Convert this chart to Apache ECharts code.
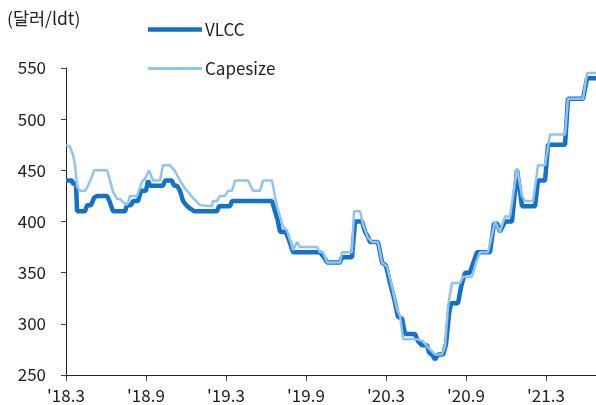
<!DOCTYPE html>
<html>
<head>
<meta charset="utf-8">
<script src="https://cdn.jsdelivr.net/npm/echarts@6/dist/echarts.min.js"></script>
<style>
  html, body { margin: 0; padding: 0; background: #fff; }
  #chart { width: 596px; height: 405px; }
</style>
</head>
<body>
<div id="chart"></div>
<script>
// 월 위치 (2018.3 = 0)
const tickLabels = ["'18.3", "'18.9", "'19.3", "'19.9", "'20.3", "'20.9", "'21.3"]

// VLCC
const vlccMonth = [0, 0.45, 0.53, 0.75, 0.83, 1.43, 1.58, 1.88, 2.1, 2.33, 3.08, 3.23, 3.53, 4.43, 4.58, 4.88, 5.03, 5.4, 5.63, 6.0,
  6.15, 6.3, 7.28, 7.43, 7.95, 8.1, 8.33, 8.55, 8.78, 9.08, 9.38, 9.6, 11.33, 11.48, 12.3, 12.45, 15.45, 15.68, 15.9, 16.05,
  16.43, 16.58, 16.8, 17.03, 19.05, 19.35, 19.58, 20.55, 20.7, 21.45, 21.68, 22.2, 22.43, 22.65, 22.8, 23.4, 23.7, 24.0, 24.3, 24.6,
  24.9, 25.2, 25.43, 26.18, 26.4, 26.7, 27.08, 27.23, 27.45, 27.68, 27.9, 28.28, 28.5, 28.73, 28.88, 29.4, 29.63, 29.93, 30.3, 30.45,
  30.83, 31.8, 32.1, 32.33, 32.55, 32.93, 33.45, 33.83, 34.2, 35.18, 35.4, 35.93, 36.15, 37.43, 37.65, 38.78, 39.08, 39.75]
const vlccValue = [440, 440, 437, 437, 410, 410, 416, 416, 423, 425, 425, 421, 410, 410, 416, 416, 420, 420, 430, 430,
  440, 435, 435, 440, 440, 435, 435, 430, 420, 415, 412, 410, 410, 415, 415, 420, 420, 410, 400, 390,
  390, 387, 379, 370, 370, 365, 360, 360, 365, 365, 400, 400, 390, 385, 380, 380, 360, 357, 340, 325,
  307, 305, 290, 290, 283, 279, 279, 272, 270, 265, 270, 270, 280, 310, 320, 320, 336, 350, 350, 356,
  370, 370, 398, 398, 390, 400, 400, 450, 415, 415, 440, 440, 475, 475, 520, 520, 540, 540]

// Capesize
const capeMonth = [0, 0.3, 0.53, 0.68, 0.83, 1.05, 1.43, 1.65, 1.95, 2.1, 3.08, 3.3, 3.53, 3.83, 4.05, 4.28, 4.58, 4.8, 5.33, 5.7,
  5.93, 6.23, 6.53, 7.05, 7.28, 7.8, 8.18, 8.55, 8.93, 9.15, 9.45, 9.83, 10.05, 10.95, 11.03, 11.33, 11.55, 11.93, 12.15, 12.45,
  12.68, 13.65, 14.03, 14.55, 14.78, 15.45, 15.75, 15.9, 16.28, 16.58, 16.8, 17.03, 17.33, 17.55, 18.83, 19.05, 19.28, 19.58, 20.55, 20.7,
  21.45, 21.6, 22.05, 22.28, 22.65, 22.95, 23.4, 23.7, 24.08, 24.45, 24.83, 25.05, 25.28, 26.33, 26.78, 27.08, 27.45, 27.68, 28.2, 28.43,
  28.65, 28.95, 29.55, 29.78, 30.45, 30.75, 31.05, 31.65, 32.18, 32.55, 32.93, 33.3, 33.83, 34.2, 34.43, 35.03, 35.4, 35.93, 36.3, 37.43,
  37.65, 38.78, 39.08, 39.75]
const capeValue = [475, 473, 465, 455, 434, 430, 430, 435, 444, 450, 450, 440, 429, 422, 422, 419, 416, 425, 425, 439,
  442, 450, 440, 440, 455, 455, 449, 440, 432, 429, 424, 419, 416, 415, 420, 420, 425, 425, 430, 430,
  440, 440, 430, 430, 440, 440, 419, 411, 395, 391, 382, 372, 380, 375, 375, 370, 370, 360, 360, 370,
  370, 410, 410, 397, 384, 380, 380, 360, 356, 336, 314, 308, 285, 285, 283, 278, 273, 270, 270, 278,
  317, 340, 340, 346, 346, 360, 370, 370, 400, 390, 405, 405, 452, 425, 420, 420, 455, 455, 485, 485,
  520, 520, 545, 545]

const pairs = (xs, ys) => xs.map((x, i) => [x, ys[i]])

const FONT = 'Noto Sans CJK KR'
const DARK = '#1570c8'
const LIGHT = '#8fc4f2'
const chart = echarts.init(document.getElementById('chart'))

chart.setOption({
  animation: false,
  textStyle: { fontFamily: FONT },
  graphic: [
    {
      type: 'text',
      left: 7,
      top: 10,
      style: { text: '(달러/ldt)', fontFamily: FONT, fontSize: 17.5, fill: '#222' }
    }
  ],
  legend: {
    orient: 'vertical',
    left: 143,
    top: 16,
    itemWidth: 54,
    itemHeight: 10,
    itemGap: 22,
    textStyle: { fontFamily: FONT, fontSize: 17, color: '#222', padding: [0, 0, 0, -2] },
    data: [
      { name: 'VLCC', icon: 'path://M0,0H54V4.5H0Z' },
      { name: 'Capesize', icon: 'path://M0,0H54V2.8H0Z' }
    ]
  },
  grid: { left: 66, right: 0, top: 68, bottom: 30, containLabel: false },
  xAxis: {
    type: 'value',
    min: 0,
    max: 39.75,
    interval: 6,
    splitLine: { show: false },
    axisLine: { lineStyle: { color: '#222', width: 1 } },
    axisTick: { show: true, length: 6, lineStyle: { color: '#444' } },
    axisLabel: {
      fontFamily: FONT,
      fontSize: 17,
      color: '#222',
      margin: 12,
      showMaxLabel: false,
      formatter: (v) => tickLabels[Math.round(v / 6)] || ''
    }
  },
  yAxis: {
    type: 'value',
    min: 250,
    max: 550,
    interval: 50,
    splitLine: { show: false },
    axisLine: { show: true, lineStyle: { color: '#222', width: 1 } },
    axisTick: { show: true, length: 5, lineStyle: { color: '#444' } },
    axisLabel: { fontFamily: FONT, fontSize: 17, color: '#222', margin: 20 }
  },
  series: [
    {
      name: 'VLCC',
      type: 'line',
      data: pairs(vlccMonth, vlccValue),
      showSymbol: false,
      symbol: 'none',
      lineStyle: { color: DARK, width: 4.5 },
      itemStyle: { color: DARK }
    },
    {
      name: 'Capesize',
      type: 'line',
      data: pairs(capeMonth, capeValue),
      showSymbol: false,
      symbol: 'none',
      lineStyle: { color: LIGHT, width: 2.5 },
      itemStyle: { color: LIGHT }
    }
  ]
})
</script>
</body>
</html>
